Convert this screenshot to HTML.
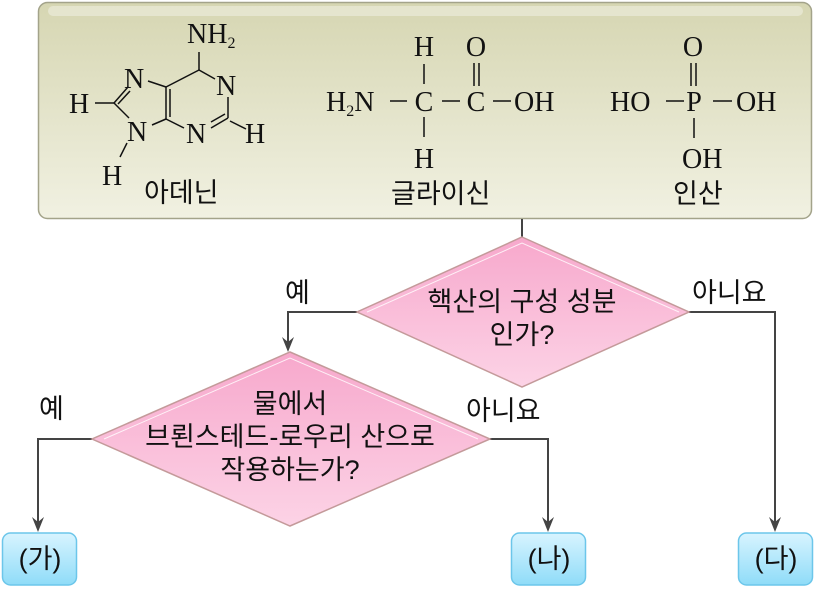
<!DOCTYPE html>
<html><head><meta charset="utf-8"><style>
body{margin:0;width:815px;height:589px;background:#fff;overflow:hidden}
svg{display:block}
.s{font-family:"Liberation Serif",serif;font-size:28px;fill:#111}
.k{font-family:"Liberation Sans","Noto Sans CJK KR",sans-serif;font-size:27px;fill:#111}
</style></head><body>
<svg width="815" height="589" viewBox="0 0 815 589" xmlns="http://www.w3.org/2000/svg">
<defs>
<linearGradient id="g1" x1="0" y1="0" x2="0" y2="1"><stop offset="0" stop-color="#d6d6b2"/><stop offset="1" stop-color="#f1f1e2"/></linearGradient>
<linearGradient id="g2" x1="0" y1="0" x2="0" y2="1"><stop offset="0" stop-color="#f7a8cc"/><stop offset="1" stop-color="#fcd3e6"/></linearGradient>
<linearGradient id="g3" x1="0" y1="0" x2="0" y2="1"><stop offset="0" stop-color="#d8f4ff"/><stop offset="1" stop-color="#8fdcf8"/></linearGradient>
</defs>
<rect x="38.5" y="2.5" width="773" height="216" rx="9" fill="url(#g1)" stroke="#a3a38a" stroke-width="1.5"/>
<rect x="48" y="6" width="755" height="10" rx="5" fill="#fff" opacity="0.35"/>
<g stroke="#111" stroke-width="1.5" fill="none">
<line x1="199" y1="52" x2="199" y2="70"/><line x1="199" y1="70" x2="215" y2="79"/>
<line x1="228" y1="97" x2="228" y2="118"/><line x1="228" y1="118" x2="211" y2="128"/><line x1="225" y1="114" x2="211" y2="122"/>
<line x1="230" y1="121" x2="246" y2="129"/>
<line x1="166" y1="87" x2="166" y2="119"/><line x1="170" y1="89" x2="170" y2="117"/>
<line x1="148" y1="81" x2="166" y2="87"/><line x1="166" y1="87" x2="199" y2="70"/>
<line x1="166" y1="119" x2="184" y2="128"/><line x1="152" y1="125" x2="166" y2="119"/>
<line x1="95" y1="103" x2="114" y2="103"/><line x1="114" y1="103" x2="128" y2="87"/><line x1="118" y1="104" x2="130" y2="91"/>
<line x1="114" y1="103" x2="129" y2="118"/><line x1="127" y1="143" x2="120" y2="157"/>
<line x1="424" y1="64" x2="424" y2="84"/><line x1="424" y1="117" x2="424" y2="137"/>
<line x1="390" y1="101" x2="407" y2="101"/><line x1="442" y1="101" x2="460" y2="101"/><line x1="493" y1="101" x2="511" y2="101"/>
<line x1="474" y1="63" x2="474" y2="86"/><line x1="479" y1="63" x2="479" y2="86"/>
<line x1="666" y1="101" x2="684" y2="101"/><line x1="713" y1="101" x2="732" y2="101"/>
<line x1="691" y1="63" x2="691" y2="86"/><line x1="696" y1="63" x2="696" y2="86"/>
<line x1="694" y1="118" x2="694" y2="138"/>
</g>
<text class="s" x="187" y="43">NH<tspan font-size="16" dy="5">2</tspan></text>
<text class="s" x="124" y="88">N</text><text class="s" x="216" y="95">N</text>
<text class="s" x="69" y="113">H</text><text class="s" x="127" y="141">N</text>
<text class="s" x="186" y="143">N</text><text class="s" x="245" y="143">H</text>
<text class="s" x="102" y="185">H</text>
<text class="k" x="144" y="202">아데닌</text>
<text class="s" x="424" y="56" text-anchor="middle">H</text><text class="s" x="476" y="56" text-anchor="middle">O</text>
<text class="s" x="326" y="111">H<tspan font-size="16" dy="5">2</tspan><tspan dy="-5">N</tspan></text>
<text class="s" x="424" y="111" text-anchor="middle">C</text><text class="s" x="476" y="111" text-anchor="middle">C</text><text class="s" x="514" y="111">OH</text>
<text class="s" x="424" y="168" text-anchor="middle">H</text>
<text class="k" x="391" y="203">글라이신</text>
<text class="s" x="693" y="56" text-anchor="middle">O</text>
<text class="s" x="610" y="111">HO</text><text class="s" x="694" y="111" text-anchor="middle">P</text><text class="s" x="736" y="111">OH</text>
<text class="s" x="682" y="168">OH</text>
<text class="k" x="673" y="203">인산</text>
<g stroke="#444" stroke-width="2" fill="none">
<line x1="522" y1="219" x2="522" y2="237"/>
<polyline points="357,312 288,312 288,345"/>
<polyline points="689,312 775,312 775,525"/>
<polyline points="92,439 38,439 38,525"/>
<polyline points="490,439 548,439 548,525"/>
</g>
<g fill="#444">
<path d="M282,337 L288,352 L294,337 L288,342Z"/>
<path d="M769,517 L775,532 L781,517 L775,522Z"/>
<path d="M32,517 L38,532 L44,517 L38,522Z"/>
<path d="M542,517 L548,532 L554,517 L548,522Z"/>
</g>
<polygon points="522,237 689,312 522,387 357,312" fill="url(#g2)" stroke="#c49a9a" stroke-width="1.5"/>
<polyline points="367,312 522,243 679,312" fill="none" stroke="#fff" stroke-width="1" opacity="0.8"/>
<polygon points="290,352 490,439 290,526 92,439" fill="url(#g2)" stroke="#c49a9a" stroke-width="1.5"/>
<polyline points="104,439 290,358 478,439" fill="none" stroke="#fff" stroke-width="1" opacity="0.8"/>
<text class="k" x="522" y="311" text-anchor="middle">핵산의 구성 성분</text>
<text class="k" x="522" y="344" text-anchor="middle">인가?</text>
<text class="k" x="290" y="413" text-anchor="middle">물에서</text>
<text class="k" x="290" y="446" text-anchor="middle">브뢴스테드-로우리 산으로</text>
<text class="k" x="290" y="479" text-anchor="middle">작용하는가?</text>
<text class="k" x="285" y="302">예</text><text class="k" x="692" y="302">아니요</text>
<text class="k" x="39" y="418">예</text><text class="k" x="466" y="420">아니요</text>
<rect x="2.5" y="533" width="74" height="52" rx="8" fill="url(#g3)" stroke="#6cc6ea" stroke-width="1.5"/>
<rect x="511.5" y="533" width="74" height="52" rx="8" fill="url(#g3)" stroke="#6cc6ea" stroke-width="1.5"/>
<rect x="738.5" y="533" width="74" height="52" rx="8" fill="url(#g3)" stroke="#6cc6ea" stroke-width="1.5"/>
<text class="k" x="40" y="568" text-anchor="middle" font-size="27">(가)</text>
<text class="k" x="549" y="568" text-anchor="middle" font-size="27">(나)</text>
<text class="k" x="776" y="568" text-anchor="middle" font-size="27">(다)</text>
</svg>
</body></html>
